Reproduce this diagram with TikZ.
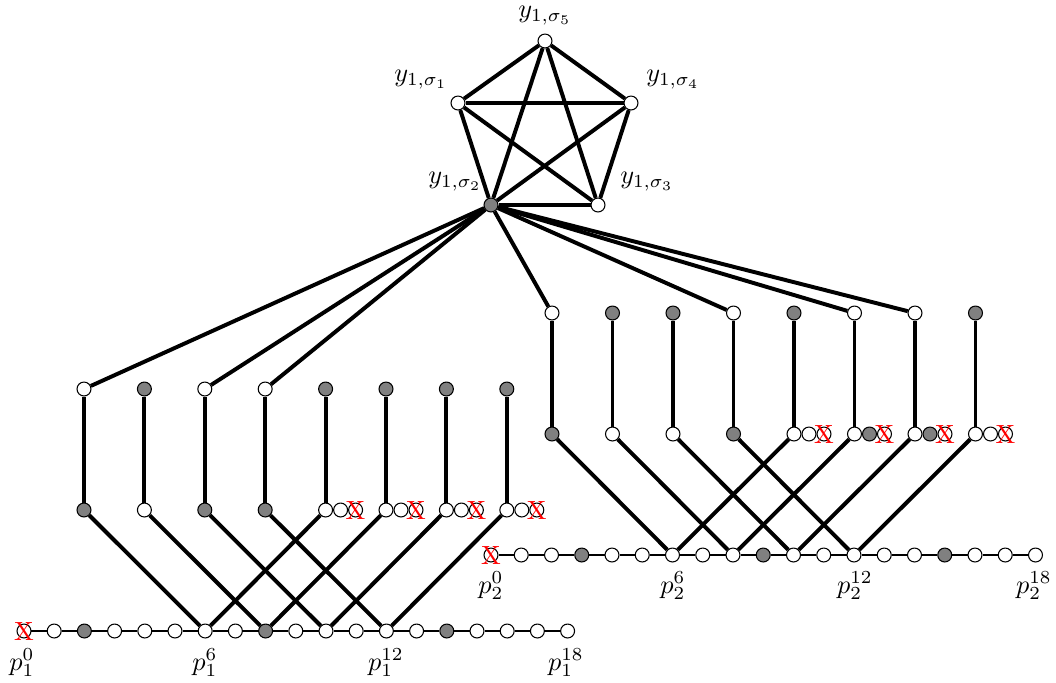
\documentclass[tikz,border=0pt]{standalone}
\usetikzlibrary{backgrounds}
\begin{document}
\begin{tikzpicture}[x=0.38pt,y=-0.38pt,
  v/.style={circle,draw,line width=0.4pt,fill=white,inner sep=0pt,minimum size=5.3pt},
  e/.style={line width=1.5pt},
  t/.style={line width=0.5pt},
  lab/.style={inner sep=0pt},
  xm/.style={text=red,inner sep=0pt,font=\normalsize}]
\useasboundingbox (0,0) rectangle (1056,682);
% pentagon
\node[v] (s5) at (545,41) {};
\node[v] (s1) at (458,103) {};
\node[v] (s4) at (631,103) {};
\node[v,fill=gray] (s2) at (491,205) {};
\node[v] (s3) at (598,205) {};
\node[lab] (ls5) at (545,16) {$y_{1,\sigma_5}$};
\node[lab] (ls1) at (421,80) {$y_{1,\sigma_1}$};
\node[lab] (ls4) at (673,80) {$y_{1,\sigma_4}$};
\node[lab] (ls2) at (455,182) {$y_{1,\sigma_2}$};
\node[lab] (ls3) at (647,182) {$y_{1,\sigma_3}$};
% row 1
\foreach \i in {0,...,18}{
  \pgfmathtruncatemacro\r{mod(\i,6)}
  \ifnum\r=2 \def\fc{gray}\else\def\fc{white}\fi
  \node[v,fill=\fc] (a\i) at ({24+30.2*\i},631) {};
}
\node[xm] (xa0) at (a0) {X};
\node[lab] (la0) at (22,663) {$p_1^0$};
\node[lab] (la6) at (205,663) {$p_1^6$};
\node[lab] (la12) at (386,663) {$p_1^{12}$};
\node[lab] (la18) at (566,663) {$p_1^{18}$};
\foreach \c/\ta/\tb in {1/white/gray,2/gray/white,3/white/gray,4/white/gray,5/gray/white,6/gray/white,7/gray/white,8/gray/white}{
  \node[v,fill=\ta] (at\c) at ({84+60.4*(\c-1)},389) {};
  \node[v,fill=\tb] (ab\c) at ({84+60.4*(\c-1)},510) {};
}
\foreach \c in {5,...,8}{
  \node[v] (ae\c) at ({84+60.4*(\c-1)+15},510) {};
  \node[v] (af\c) at ({84+60.4*(\c-1)+30},510) {};
  \node[xm] (xf\c) at (af\c) {X};
}
% row 2
\foreach \i in {0,...,18}{
  \pgfmathtruncatemacro\r{mod(\i,6)}
  \ifnum\r=3 \def\fc{gray}\else\def\fc{white}\fi
  \node[v,fill=\fc] (b\i) at ({491+30.25*\i},555) {};
}
\node[xm] (xb0) at (b0) {X};
\node[lab] (lb0) at (491,586) {$p_2^0$};
\node[lab] (lb6) at (673,586) {$p_2^6$};
\node[lab] (lb12) at (855,586) {$p_2^{12}$};
\node[lab] (lb18) at (1034,586) {$p_2^{18}$};
\foreach \c/\ta/\tb in {1/white/gray,2/gray/white,3/gray/white,4/white/gray,5/gray/white,6/white/white,7/white/white,8/gray/white}{
  \node[v,fill=\ta] (bt\c) at ({552+60.5*(\c-1)},313) {};
  \node[v,fill=\tb] (bb\c) at ({552+60.5*(\c-1)},434) {};
}
\foreach \c/\tc in {5/white,6/gray,7/gray,8/white}{
  \node[v,fill=\tc] (be\c) at ({552+60.5*(\c-1)+15},434) {};
  \node[v] (bf\c) at ({552+60.5*(\c-1)+30},434) {};
  \node[xm] (xg\c) at (bf\c) {X};
}
% edges
\begin{scope}[on background layer]
  \foreach \p/\q in {s5/s1,s5/s4,s5/s2,s5/s3,s1/s4,s1/s2,s1/s3,s4/s2,s4/s3,s2/s3,
                     s2/at1,s2/at3,s2/at4,s2/bt1,s2/bt4,s2/bt6,s2/bt7}
    \draw[e] (\p) -- (\q);
  \foreach \c in {1,...,8}{
    \draw[e] (at\c) -- (ab\c);
    \draw[e] (bt\c) -- (bb\c);
  }
  \foreach \c/\k in {1/6,2/8,3/10,4/12,5/6,6/8,7/10,8/12}{
    \draw[e] (ab\c) -- (a\k);
    \draw[e] (bb\c) -- (b\k);
  }
  \foreach \i [evaluate=\i as \j using int(\i+1)] in {0,...,17}{
    \draw[t] (a\i) -- (a\j);
    \draw[t] (b\i) -- (b\j);
  }
\end{scope}
\end{tikzpicture}
\end{document}
